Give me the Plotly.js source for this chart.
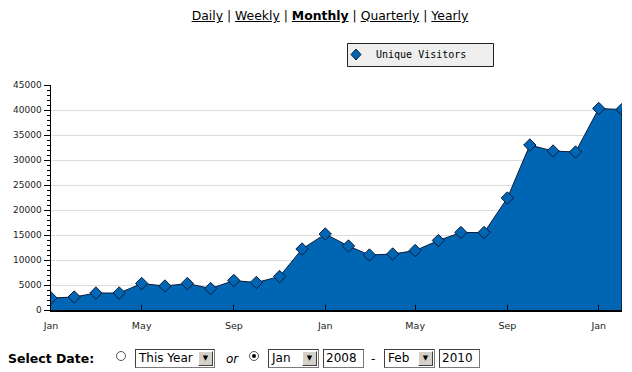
<!DOCTYPE html>
<html>
<head>
<meta charset="utf-8">
<script src="https://cdn.plot.ly/plotly-3.0.1.min.js"></script>
<style>
  html, body { margin: 0; padding: 0; background: #fff; width: 632px; height: 372px; overflow: hidden; font-family: "DejaVu Sans", Verdana, sans-serif; }
  #chart { position: absolute; left: 0; top: 0; width: 632px; height: 372px; }
  #links { position: absolute; left: 0; width: 660px; top: 8px; text-align: center; font-size: 12.4px; color: #000; }
  #links a { color: #000; text-decoration: underline; }
  #links b { text-decoration: underline; }
  #controls { position: absolute; left: 0; top: 348px; width: 632px; height: 22px; font-size: 12px; color: #000; }
  .abs { position: absolute; }
  .sel { position: absolute; height: 17px; border: 1px solid #7a7a7a; border-top-color: #404040; border-left-color: #404040; background: #fff; font-size: 12px; line-height: 17px; padding-left: 3px; box-sizing: content-box; }
  .sel .btn { position: absolute; right: 1px; top: 1px; width: 13px; height: 13px; background: #d4d0c8; border: 1px solid #fff; border-right-color: #404040; border-bottom-color: #404040; font-size: 7px; line-height: 13px; text-align: center; color: #000; }
  .inp { position: absolute; height: 17px; border: 1px solid #7a7a7a; border-top-color: #404040; border-left-color: #404040; background: #fff; font-size: 12px; line-height: 17px; padding-left: 2px; }
  .radio { position: absolute; width: 8px; height: 8px; border-radius: 50%; border: 1px solid #555; background: #fff; }
  .radio.on::after { content: ""; position: absolute; left: 2px; top: 2px; width: 4px; height: 4px; border-radius: 50%; background: #000; }
</style>
</head>
<body>
<div id="chart"></div>
<div id="links"><a>Daily</a> | <a>Weekly</a> | <b>Monthly</b> | <a>Quarterly</a> | <a>Yearly</a></div>
<div id="controls">
  <div class="abs" style="left:8px; top:3px; font-weight:bold; font-size:12.5px;">Select Date:</div>
  <div class="radio" style="left:116px; top:3px;"></div>
  <div class="sel" style="left:135px; top:1px; width:75px;">This Year<div class="btn">&#9660;</div></div>
  <div class="abs" style="left:226px; top:4px; font-style:italic;">or</div>
  <div class="radio on" style="left:249px; top:3px;"></div>
  <div class="sel" style="left:268px; top:1px; width:46px;">Jan<div class="btn">&#9660;</div></div>
  <div class="inp" style="left:323px; top:1px; width:37px;">2008</div>
  <div class="abs" style="left:371px; top:4px;">-</div>
  <div class="sel" style="left:384px; top:1px; width:46px;">Feb<div class="btn">&#9660;</div></div>
  <div class="inp" style="left:439px; top:1px; width:37px;">2010</div>
</div>
<script>
// Monthly unique visitors, Jan 2008 - Feb 2010
const months = [
  "2008-01-01","2008-02-01","2008-03-01","2008-04-01","2008-05-01","2008-06-01",
  "2008-07-01","2008-08-01","2008-09-01","2008-10-01","2008-11-01","2008-12-01",
  "2009-01-01","2009-02-01","2009-03-01","2009-04-01","2009-05-01","2009-06-01",
  "2009-07-01","2009-08-01","2009-09-01","2009-10-01","2009-11-01","2009-12-01",
  "2010-01-01","2010-02-01"
];
const visitors = [
  2400, 2600, 3400, 3400, 5300, 4800,
  5300, 4300, 5900, 5500, 6700, 12200,
  15200, 12800, 11000, 11200, 11900, 13900,
  15500, 15500, 22400, 33000, 31800, 31600,
  40300, 40100
];
const seriesName = "Unique Visitors";
const yTicks = [0, 5000, 10000, 15000, 20000, 25000, 30000, 35000, 40000, 45000];

const blue = "#0066b3";
const navy = "#0c1c3c";
const last = months.length - 1;

const traces = [
  {
    x: months, y: visitors, type: "scatter", mode: "lines+markers", name: seriesName,
    fill: "tozeroy", fillcolor: blue,
    line: { color: navy, width: 1 },
    marker: { symbol: "diamond", size: 9.5, color: blue, line: { color: navy, width: 1 } },
    showlegend: false, hoverinfo: "x+y"
  },
  {
    x: [months[last], months[last]], y: [0, visitors[last]], type: "scatter", mode: "lines",
    line: { color: navy, width: 1.5 }, showlegend: false, hoverinfo: "skip"
  }
];

// legend box (drawn by hand, in paper coordinates over the plot area)
const plotL = 51, plotW = 571, plotB = 310, plotH = 225;
const px = v => (v - plotL) / plotW;
const py = v => (plotB - v) / plotH;

const layout = {
  width: 632, height: 372,
  margin: { l: plotL, r: 632 - plotL - plotW, t: plotB - plotH, b: 372 - plotB },
  paper_bgcolor: "rgba(0,0,0,0)", plot_bgcolor: "#fff",
  font: { family: "DejaVu Sans, Verdana, sans-serif", size: 9, color: "#222" },
  showlegend: false,
  shapes: [
    { type: "rect", xref: "paper", yref: "paper", x0: px(347.5), x1: px(493.5), y0: py(66.5), y1: py(43.5),
      fillcolor: "#eeeeee", line: { color: "#222", width: 1 } },
    { type: "path", xref: "paper", yref: "paper", xsizemode: "pixel", ysizemode: "pixel",
      xanchor: px(356), yanchor: py(54.5),
      path: "M 0 5.5 L 5 0 L 0 -5.5 L -5 0 Z",
      fillcolor: blue, line: { color: navy, width: 1 } }
  ],
  annotations: [
    { xref: "paper", yref: "paper", x: px(374), y: py(54.5), xanchor: "left", yanchor: "middle",
      text: seriesName, showarrow: false,
      font: { family: "DejaVu Sans Mono, monospace", size: 10, color: "#000" } }
  ],
  xaxis: {
    type: "date",
    range: [months[0], months[last]],
    tick0: months[0], dtick: "M4", tickformat: "%b",
    ticks: "inside", ticklen: 5, tickcolor: "#000", tickwidth: 1,
    ticklabelstandoff: 6,
    showgrid: false, zeroline: false,
    showline: true, linecolor: "#000", linewidth: 2,
    tickfont: { size: 9.5, color: "#222" },
    fixedrange: true
  },
  yaxis: {
    range: [0, 45000],
    tickvals: yTicks, ticktext: yTicks.map(String),
    ticks: "outside", ticklen: 6, tickcolor: "#000", tickwidth: 1,
    minor: { dtick: 1000, ticks: "outside", ticklen: 3, tickcolor: "#000", showgrid: false },
    showgrid: true, gridcolor: "#dcdcdc", gridwidth: 1,
    zeroline: false,
    showline: true, linecolor: "#000", linewidth: 1.5,
    tickfont: { size: 9, color: "#222" },
    fixedrange: true
  }
};

Plotly.newPlot("chart", traces, layout, { displayModeBar: false, staticPlot: true });
</script>
</body>
</html>
